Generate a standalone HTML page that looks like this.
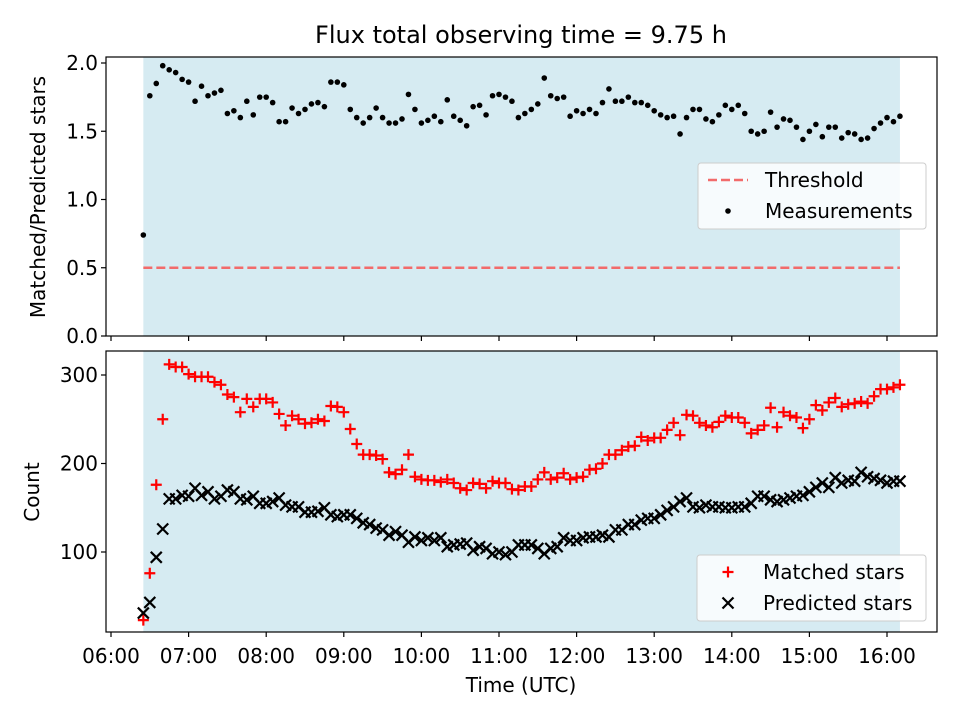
<!DOCTYPE html>
<html><head><meta charset="utf-8"><style>
body{margin:0;background:#fff}
svg{display:block;font-family:"DejaVu Sans","Liberation Sans",sans-serif}
</style></head><body>
<svg id="chart" width="960" height="720" viewBox="0 0 960 720" xmlns="http://www.w3.org/2000/svg">
<text x="521" y="43" font-size="24" text-anchor="middle">Flux total observing time = 9.75 h</text>
<g id="top"></g><g id="bot"></g>
</svg>
<script>
const startHour = 6 + 25/60;
const endHour = 16 + 10/60;
const threshold = 0.5;
const ratioValues = [0.74,1.76,1.85,1.98,1.95,1.93,1.88,1.86,1.72,1.83,1.76,1.78,1.80,1.63,1.65,1.60,1.72,1.62,1.75,1.75,1.71,1.57,1.57,1.67,1.63,1.66,1.70,1.71,1.68,1.86,1.86,1.84,1.66,1.60,1.56,1.60,1.67,1.60,1.56,1.56,1.59,1.77,1.66,1.56,1.58,1.61,1.57,1.73,1.61,1.58,1.54,1.68,1.69,1.62,1.76,1.77,1.75,1.72,1.60,1.63,1.66,1.70,1.89,1.76,1.74,1.75,1.61,1.65,1.63,1.66,1.63,1.71,1.81,1.72,1.72,1.75,1.71,1.71,1.69,1.65,1.62,1.60,1.61,1.48,1.60,1.66,1.66,1.59,1.57,1.62,1.69,1.66,1.69,1.63,1.50,1.48,1.50,1.64,1.53,1.59,1.58,1.53,1.44,1.50,1.55,1.46,1.53,1.53,1.45,1.49,1.48,1.44,1.45,1.52,1.56,1.60,1.57,1.61];
const matchedValues = [23,76,176,250,312,309,309,301,298,298,298,292,289,278,275,258,273,264,273,273,269,256,243,254,250,245,246,250,248,265,264,258,239,222,210,210,209,205,190,188,193,210,185,182,181,181,179,182,178,172,170,178,177,172,180,178,178,171,170,174,174,182,190,182,184,189,182,184,185,193,194,200,210,210,215,219,220,230,226,229,229,238,246,232,255,254,246,243,241,247,254,252,252,246,234,238,243,263,241,258,254,252,240,250,266,260,269,274,264,267,268,270,268,276,284,284,286,289];
const predictedValues = [31,43,94,126,160,160,164,163,172,164,168,160,163,170,168,160,159,163,155,155,157,161,153,151,151,145,145,146,150,142,140,142,142,138,133,131,127,125,119,123,119,111,117,113,116,113,116,106,108,109,110,102,106,104,98,100,97,100,108,108,108,104,98,104,106,116,113,113,116,117,117,119,117,125,125,131,131,136,138,138,142,147,151,157,161,151,150,153,151,151,150,150,151,151,155,163,163,159,157,159,161,163,164,168,173,178,173,184,178,181,180,190,185,183,181,178,180,180];
const xTicks = ["06:00","07:00","08:00","09:00","10:00","11:00","12:00","13:00","14:00","15:00","16:00"];
const topTicks = [0.0,0.5,1.0,1.5,2.0];
const botTicks = [100,200,300];

const NS="http://www.w3.org/2000/svg";
const L=106,R=937;
const FS=20;
const xs=h=>111+(h-6)*77.6;
const yTop=v=>336-v*136.5;
const yBot=v=>552-(v-100)*0.885;
function mk(tag,attrs,parent,text){const e=document.createElementNS(NS,tag);for(const k in attrs)e.setAttribute(k,attrs[k]);if(text!==undefined)e.textContent=text;parent.appendChild(e);return e;}
function tx(i,n){return startHour+(endHour-startHour)*i/(n-1);}

function frame(g,top,bot,name){
  const bg=mk('rect',{x:xs(startHour),y:top,width:xs(endHour)-xs(startHour),height:bot-top,fill:'#add8e6','fill-opacity':0.5},g);
  
  
  xTicks.forEach((t,i)=>{const l=mk('line',{x1:xs(6+i),x2:xs(6+i),y1:bot,y2:bot+5,stroke:'#000','stroke-width':1.2},g);
    
    });
}
function spine(g,top,bot,name){
  const r=mk('rect',{x:L,y:top,width:R-L,height:bot-top,fill:'none',stroke:'#000','stroke-width':1.2},g);
  
  
}

// TOP
const gt=document.getElementById('top');
const T0=57,T1=336;
frame(gt,T0,T1,'top');
topTicks.forEach(v=>{const y=yTop(v);
  const l=mk('line',{x1:L-5,x2:L,y1:y,y2:y,stroke:'#000','stroke-width':1.2},gt);
  
  
  const t=mk('text',{x:L-8,y:y+7,'font-size':FS,'text-anchor':'end'},gt,v.toFixed(1));
  
  });
const th=mk('line',{x1:xs(startHour),x2:xs(endHour),y1:yTop(threshold),y2:yTop(threshold),stroke:'#f26b6b','stroke-width':2.5,'stroke-dasharray':'9,4'},gt);


ratioValues.forEach((v,i)=>{const c=mk('circle',{cx:xs(tx(i,ratioValues.length)),cy:yTop(v),r:2.8,fill:'#000'},gt);
  
  });
spine(gt,T0,T1,'top');
const yl1=mk('text',{x:45,y:197,'font-size':FS,'text-anchor':'middle',transform:'rotate(-90 45 197)'},gt,'Matched/Predicted stars');


const lg1=mk('g',{},gt);


mk('rect',{x:698,y:163,width:228,height:66,rx:3,fill:'#fff','fill-opacity':0.8,stroke:'#ccc'},lg1);
mk('line',{x1:708,x2:748,y1:180,y2:180,stroke:'#f26b6b','stroke-width':2.5,'stroke-dasharray':'9,4'},lg1);
mk('text',{x:765,y:187,'font-size':FS},lg1,'Threshold');
mk('circle',{cx:728,cy:211,r:2.8,fill:'#000'},lg1);
mk('text',{x:765,y:218,'font-size':FS},lg1,'Measurements');

// BOTTOM
const gb=document.getElementById('bot');
const B0=351,B1=632;
frame(gb,B0,B1,'bottom');
botTicks.forEach(v=>{const y=yBot(v);
  const l=mk('line',{x1:L-5,x2:L,y1:y,y2:y,stroke:'#000','stroke-width':1.2},gb);
  
  
  const t=mk('text',{x:L-8,y:y+7,'font-size':FS,'text-anchor':'end'},gb,String(v));
  
  });
function plus(g,x,y){return mk('path',{d:`M${x-5.5} ${y}H${x+5.5}M${x} ${y-5.5}V${y+5.5}`,stroke:'#f00','stroke-width':2.2,fill:'none'},g);}
function cross(g,x,y){return mk('path',{d:`M${x-5.5} ${y-5.5}L${x+5.5} ${y+5.5}M${x-5.5} ${y+5.5}L${x+5.5} ${y-5.5}`,stroke:'#000','stroke-width':2.2,fill:'none'},g);}
matchedValues.forEach((v,i)=>{const p=plus(gb,xs(tx(i,matchedValues.length)),yBot(v));
  
  });
predictedValues.forEach((v,i)=>{const p=cross(gb,xs(tx(i,predictedValues.length)),yBot(v));
  
  });
spine(gb,B0,B1,'bottom');
xTicks.forEach((t,i)=>{const e=mk('text',{x:xs(6+i),y:B1+31,'font-size':FS,'text-anchor':'middle'},gb,t);
  
  });
const xl=mk('text',{x:521,y:692,'font-size':FS,'text-anchor':'middle'},gb,'Time (UTC)');


const yl2=mk('text',{x:39,y:492,'font-size':FS,'text-anchor':'middle',transform:'rotate(-90 39 492)'},gb,'Count');


const lg2=mk('g',{},gb);


mk('rect',{x:697,y:555,width:229,height:66,rx:3,fill:'#fff','fill-opacity':0.8,stroke:'#ccc'},lg2);
plus(lg2,728,572);
mk('text',{x:763,y:579,'font-size':FS},lg2,'Matched stars');
cross(lg2,728,603);
mk('text',{x:763,y:610,'font-size':FS},lg2,'Predicted stars');
</script>
</body></html>
